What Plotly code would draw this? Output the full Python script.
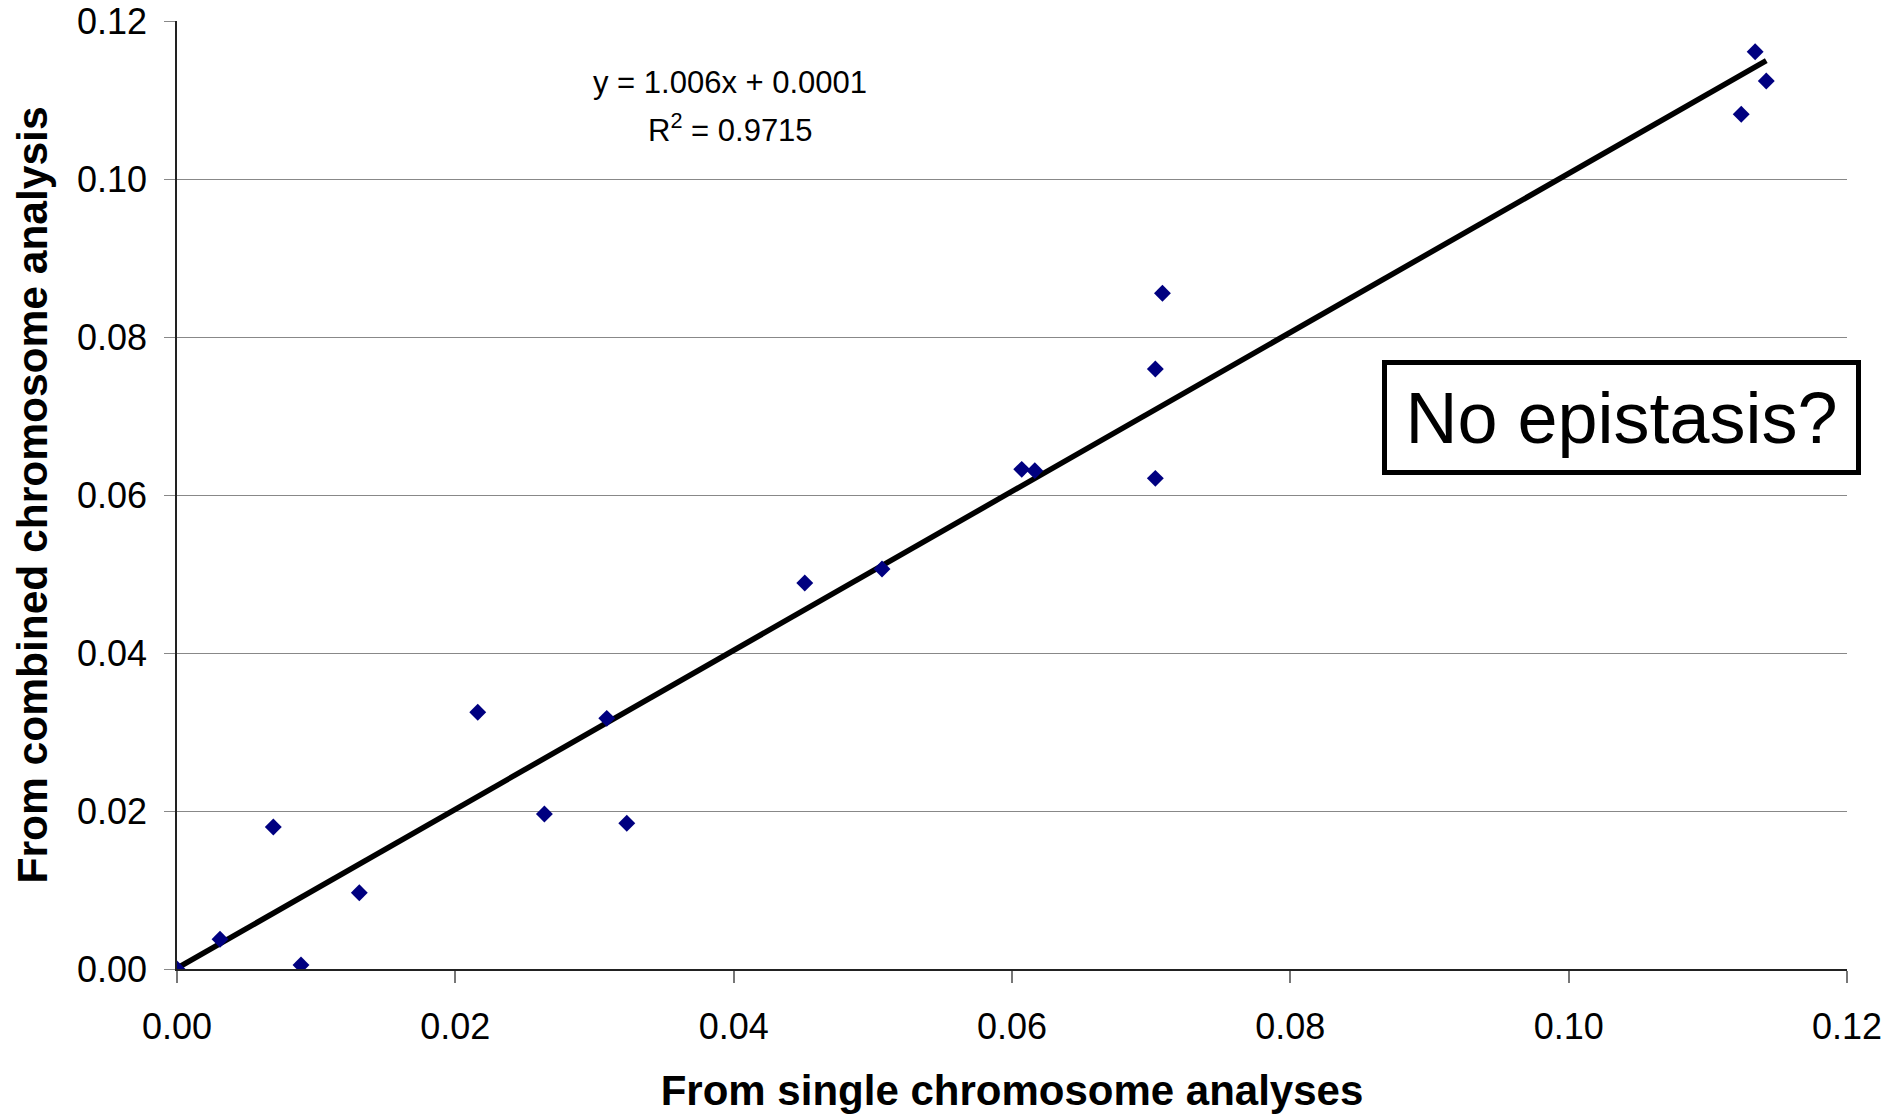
import plotly.graph_objects as go

# Data
single_analysis = [0.0, 0.00309, 0.00692, 0.00891, 0.0131, 0.02161, 0.0264, 0.03088, 0.03232,
                   0.04511, 0.05066, 0.0607, 0.06164, 0.0703, 0.0703, 0.07081,
                   0.1124, 0.1134, 0.1142]
combined_analysis = [0.0, 0.00376, 0.01797, 0.0005, 0.00966, 0.0325, 0.01962, 0.03173, 0.01844,
                     0.04886, 0.05063, 0.06325, 0.06308, 0.06211, 0.07595, 0.08553,
                     0.1082, 0.1161, 0.1124]

# Linear trendline reported on the chart
trend_slope = 1.006
trend_intercept = 0.0001
trend_x = [min(single_analysis), max(single_analysis)]
trend_y = [trend_slope * v + trend_intercept for v in trend_x]

tick_vals = [0.00, 0.02, 0.04, 0.06, 0.08, 0.10, 0.12]
tick_text = ["0.00", "0.02", "0.04", "0.06", "0.08", "0.10", "0.12"]

FONT = "Liberation Sans, Arial, sans-serif"

# plot area in pixels (for paper-coordinate placement of text)
L, R, T, B = 177, 1847, 21, 969
PW, PH = R - L, B - T

def px(xp):
    return (xp - L) / PW

def py(yp):
    return (B - yp) / PH

fig = go.Figure()
fig.add_trace(go.Scatter(
    x=trend_x, y=trend_y, mode="lines",
    line=dict(color="black", width=5.5),
    showlegend=False, hoverinfo="skip"))
fig.add_trace(go.Scatter(
    x=single_analysis, y=combined_analysis, mode="markers",
    marker=dict(symbol="diamond", size=13, color="#000080", line=dict(width=0)),
    showlegend=False))

fig.update_layout(
    width=1891, height=1114,
    margin=dict(l=L, r=1891 - R, t=T, b=1114 - B),
    paper_bgcolor="white", plot_bgcolor="white",
    font=dict(family=FONT, color="black"),
    xaxis=dict(
        range=[0, 0.12], tickvals=tick_vals, ticktext=tick_text,
        automargin=False,
        showgrid=False, zeroline=False,
        showline=True, linecolor="#222222", linewidth=1.5,
        ticks="outside", ticklen=12, tickcolor="#777777", tickwidth=2,
        tickfont=dict(size=36, family=FONT),
        ticklabelstandoff=13,
        title=dict(text="<b>From single chromosome analyses</b>",
                   font=dict(size=42, family=FONT), standoff=32),
    ),
    yaxis=dict(
        range=[0, 0.12], tickvals=tick_vals, ticktext=tick_text,
        automargin=False,
        showgrid=True, gridcolor="#888888", gridwidth=1.2, zeroline=False,
        showline=True, linecolor="#222222", linewidth=1.5,
        ticks="outside", ticklen=11, tickcolor="#888888", tickwidth=1.2,
        tickfont=dict(size=36, family=FONT),
        ticklabelstandoff=10,
        title=dict(text="<b>From combined chromosome analysis</b>",
                   font=dict(size=42.5, family=FONT), standoff=16),
    ),
    annotations=[
        dict(text="y = 1.006x + 0.0001", xref="paper", yref="paper",
             x=px(730), y=py(83), showarrow=False,
             font=dict(size=31, family=FONT), xanchor="center", yanchor="middle"),
        dict(text="R<sup>2</sup> = 0.9715", xref="paper", yref="paper",
             x=px(730), y=py(128), showarrow=False,
             font=dict(size=31, family=FONT), xanchor="center", yanchor="middle"),
        dict(text="No epistasis?", xref="paper", yref="paper",
             x=px(1621.5), y=py(417), showarrow=False,
             font=dict(size=72, family=FONT), xanchor="center", yanchor="middle",
             bordercolor="black", borderwidth=5, borderpad=0, bgcolor="white",
             width=469, height=105),
    ],
)

fig.write_html("out.html")
